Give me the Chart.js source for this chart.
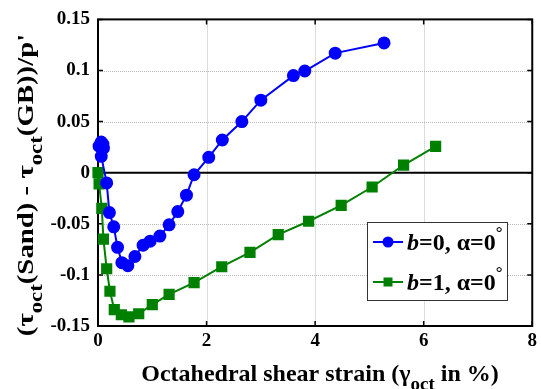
<!DOCTYPE html>
<html>
<head>
<meta charset="utf-8">
<script src="https://cdn.jsdelivr.net/npm/chart.js@4"></script>
<style>
  html, body { margin: 0; padding: 0; background: #fff; }
  #chart { display: block; }
</style>
</head>
<body>
<canvas id="chart" width="541" height="389"></canvas>
<script>
// data
var blueX = [0.02, 0.06, 0.09, 0.10, 0.06, 0.16, 0.21, 0.29, 0.36, 0.44, 0.55, 0.68, 0.83, 0.96, 1.14, 1.31, 1.47, 1.63, 1.77, 2.04, 2.29, 2.65, 3.0, 3.6, 3.81, 4.37, 5.27];
var blueY = [0.026, 0.030, 0.028, 0.024, 0.016, -0.010, -0.039, -0.053, -0.073, -0.088, -0.091, -0.082, -0.071, -0.067, -0.062, -0.051, -0.038, -0.022, -0.002, 0.015, 0.032, 0.050, 0.071, 0.095, 0.0995, 0.117, 0.127];
var greenX = [0, 0.02, 0.07, 0.10, 0.16, 0.22, 0.30, 0.43, 0.57, 0.75, 1.0, 1.31, 1.77, 2.28, 2.8, 3.32, 3.88, 4.48, 5.05, 5.63, 6.22];
var greenY = [0, -0.011, -0.035, -0.065, -0.094, -0.116, -0.134, -0.139, -0.141, -0.138, -0.129, -0.119, -0.1075, -0.092, -0.078, -0.0605, -0.0475, -0.032, -0.014, 0.0075, 0.0257];
var xTicks = [0, 2, 4, 6, 8];
var yTicks = [-0.15, -0.1, -0.05, 0, 0.05, 0.1, 0.15];
var seriesNames = ['b=0, \u03b1=0\u00b0', 'b=1, \u03b1=0\u00b0'];

var SERIF = '"Liberation Serif", "Times New Roman", serif';

function pts(xs, ys) {
  return xs.map(function (x, i) { return { x: x, y: ys[i] }; });
}

// text pieces: {t, sub, sup, it}
function partFont(p, size) {
  var s = p.sub ? Math.round(size * 0.78) : (p.sup ? Math.round(size * 0.7) : size);
  return (p.it ? 'italic ' : '') + 'bold ' + s + 'px ' + SERIF;
}
function richWidth(ctx, parts, size) {
  var w = 0;
  parts.forEach(function (p) {
    ctx.font = partFont(p, size);
    w += ctx.measureText(p.t).width;
  });
  return w;
}
function richDraw(ctx, parts, size, x, y) {
  parts.forEach(function (p) {
    ctx.font = partFont(p, size);
    var dy = p.sub ? size * 0.36 : (p.sup ? -size * 0.5 : 0);
    ctx.fillText(p.t, x, y + dy);
    x += ctx.measureText(p.t).width;
  });
}

var xTitle = [{ t: 'Octahedral shear strain (\u03b3' }, { t: 'oct', sub: true }, { t: ' in %)' }];
var yTitle = [{ t: '(\u03c4' }, { t: 'oct', sub: true }, { t: '(Sand) - \u03c4' }, { t: 'oct', sub: true }, { t: "(GB))/p'" }];
var legendRows = [
  [{ t: 'b', it: true }, { t: '=0, \u03b1=0' }, { t: '\u00b0', sup: true }],
  [{ t: 'b', it: true }, { t: '=1, \u03b1=0' }, { t: '\u00b0', sup: true }]
];

var framePlugin = {
  id: 'frame',
  beforeDatasetsDraw: function (chart) {
    var ctx = chart.ctx, a = chart.chartArea;
    var xs = chart.scales.x, ys = chart.scales.y;
    ctx.save();
    // dotted grid
    ctx.strokeStyle = '#b8b8b8';
    ctx.lineWidth = 1;
    ctx.setLineDash([1, 1]);
    xTicks.forEach(function (v) {
      var px = Math.round(xs.getPixelForValue(v)) + 0.5;
      ctx.beginPath(); ctx.moveTo(px, a.top); ctx.lineTo(px, a.bottom); ctx.stroke();
    });
    yTicks.forEach(function (v) {
      if (v === 0) return;
      var py = Math.round(ys.getPixelForValue(v)) + 0.5;
      ctx.beginPath(); ctx.moveTo(a.left, py); ctx.lineTo(a.right, py); ctx.stroke();
    });
    ctx.setLineDash([]);
    // zero line
    ctx.strokeStyle = '#000';
    ctx.lineWidth = 2;
    var y0 = ys.getPixelForValue(0);
    ctx.beginPath(); ctx.moveTo(a.left, y0); ctx.lineTo(a.right, y0); ctx.stroke();
    // box and inward ticks
    ctx.lineWidth = 2;
    ctx.strokeRect(a.left, a.top, a.right - a.left, a.bottom - a.top);
    ctx.lineWidth = 1.5;
    xTicks.forEach(function (v) {
      var px = xs.getPixelForValue(v);
      ctx.beginPath();
      ctx.moveTo(px, a.bottom); ctx.lineTo(px, a.bottom - 5);
      ctx.moveTo(px, a.top); ctx.lineTo(px, a.top + 5);
      ctx.stroke();
    });
    yTicks.forEach(function (v) {
      var py = ys.getPixelForValue(v);
      ctx.beginPath();
      ctx.moveTo(a.left, py); ctx.lineTo(a.left + 5, py);
      ctx.moveTo(a.right, py); ctx.lineTo(a.right - 5, py);
      ctx.stroke();
    });
    ctx.restore();
  },
  afterDraw: function (chart) {
    var ctx = chart.ctx, a = chart.chartArea;
    ctx.save();
    ctx.fillStyle = '#000';
    ctx.textBaseline = 'alphabetic';
    // x axis title
    var size = 24;
    var w = richWidth(ctx, xTitle, size);
    richDraw(ctx, xTitle, size, 320 - w / 2, 381);
    // y axis title, rotated and stretched along its length
    ctx.save();
    ctx.translate(33, 185);
    ctx.rotate(-Math.PI / 2);
    ctx.scale(1.2, 1);
    w = richWidth(ctx, yTitle, size);
    richDraw(ctx, yTitle, size, -w / 2, 0);
    ctx.restore();
    // legend box
    var lx = 367, ly = 222, lw = 140, lh = 78;
    ctx.fillStyle = '#fff';
    ctx.fillRect(lx, ly, lw, lh);
    ctx.strokeStyle = '#333';
    ctx.lineWidth = 1;
    ctx.strokeRect(lx + 0.5, ly + 0.5, lw, lh);
    chart.data.datasets.forEach(function (ds, i) {
      var cy = ly + 20 + i * 40;
      ctx.strokeStyle = ds.borderColor;
      ctx.lineWidth = 2;
      ctx.beginPath(); ctx.moveTo(lx + 6, cy); ctx.lineTo(lx + 36, cy); ctx.stroke();
      ctx.fillStyle = ds.backgroundColor;
      if (ds.pointStyle === 'rect') {
        ctx.fillRect(lx + 21 - 4.5, cy - 4.5, 9, 9);
      } else {
        ctx.beginPath(); ctx.arc(lx + 21, cy, 5.5, 0, Math.PI * 2); ctx.fill();
      }
      ctx.fillStyle = '#000';
      richDraw(ctx, legendRows[i], 24, lx + 40, cy + 8);
    });
    ctx.restore();
  }
};

var ctx = document.getElementById('chart').getContext('2d');
var chart = new Chart(ctx, {
  type: 'scatter',
  data: {
    datasets: [{
      label: seriesNames[0],
      data: pts(blueX, blueY),
      showLine: true,
      borderColor: '#0000ff',
      backgroundColor: '#0000ff',
      borderWidth: 2,
      pointStyle: 'circle',
      pointRadius: 5.5,
      pointHoverRadius: 5.5,
      clip: false
    }, {
      label: seriesNames[1],
      data: pts(greenX, greenY),
      showLine: true,
      borderColor: '#008000',
      backgroundColor: '#008000',
      borderWidth: 2,
      pointStyle: 'rect',
      pointRadius: 6.5,
      pointHoverRadius: 6.5,
      clip: false
    }]
  },
  options: {
    responsive: false,
    animation: false,
    devicePixelRatio: 1,
    layout: { padding: { left: 0, top: 18, right: 4, bottom: 0 } },
    plugins: { legend: { display: false }, tooltip: { enabled: false } },
    scales: {
      x: {
        type: 'linear',
        min: 0, max: 8,
        afterFit: function (s) { s.height = 63; },
        afterBuildTicks: function (s) { s.ticks = xTicks.map(function (v) { return { value: v }; }); },
        grid: { display: false, drawTicks: false },
        border: { display: false },
        ticks: {
          padding: 4,
          color: '#000',
          font: { family: SERIF, size: 19, weight: 'bold' }
        }
      },
      y: {
        type: 'linear',
        min: -0.15, max: 0.15,
        afterFit: function (s) { s.width = 98; },
        afterBuildTicks: function (s) { s.ticks = yTicks.map(function (v) { return { value: v }; }); },
        grid: { display: false, drawTicks: false },
        border: { display: false },
        ticks: {
          padding: 8,
          color: '#000',
          font: { family: SERIF, size: 19, weight: 'bold' },
          callback: function (v) { return String(Math.round(v * 100) / 100); }
        }
      }
    }
  },
  plugins: [framePlugin]
});
</script>
</body>
</html>
